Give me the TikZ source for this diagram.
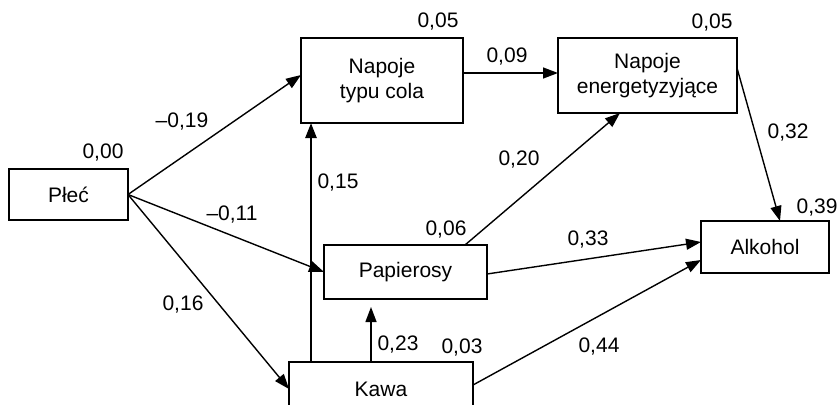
\documentclass[tikz,border=0pt]{standalone}
\usepackage{fontspec}
\setmainfont{Liberation Sans}
\usetikzlibrary{arrows.meta}
\tikzset{
	box/.style={draw, line width=1.8pt, inner sep=0pt, outer sep=0pt, align=center},
	arr/.style={line width=1.4pt, -{Triangle[length=15pt,width=11pt]}},
	heavyarr/.style={arr, line width=2.4pt},
	coef/.style={anchor=base, inner sep=0pt}
}

\begin{document}
\begin{tikzpicture}[x=1pt, y=-1pt, font=\fontsize{21}{25}\selectfont]
			%%%%% BOXES %%%%%
			\clip (0,0) rectangle (840,404);
			
			\node[box, minimum width=119pt, minimum height=51pt] (plec) at (68.5,194.5) {Płeć};
			\node[box, minimum width=162pt, minimum height=85pt] (cola) at (382,80.5) {Napoje\\typu cola};
			\node[box, minimum width=179pt, minimum height=75pt] (energ) at (647.5,75.5) {Napoje\\energetyzyjące};
			\node[box, minimum width=163pt, minimum height=54pt] (papier) at (405.5,272) {Papierosy};
			\node[box, minimum width=128pt, minimum height=52pt] (alk) at (765,247) {Alkohol};
			\node[box, minimum width=184pt, minimum height=54pt] (kawa) at (381,389) {Kawa};
			
			%%%%% PATHS %%%%%
			\draw[arr] (plec.east) -- ([yshift=5.5pt]cola.west);
			\draw[arr] (plec.east) -- (papier.west);
			\draw[arr] (plec.east) -- (kawa.west);
			\draw[heavyarr] ([xshift=-70pt]kawa.north) -- ([xshift=-70pt]kawa.north |- cola.south);
			\draw[arr, shorten >=8pt] ([xshift=-10pt]kawa.north) -- ([xshift=-10pt]kawa.north |- papier.south);
			\draw[arr] ([yshift=7.5pt]cola.east) -- ([yshift=7.5pt]cola.east -| energ.west);
			\draw[arr] ([xshift=59.5pt]papier.north) -- ([xshift=-27.5pt]energ.south);
			\draw[arr] ([yshift=7.5pt]energ.east) -- ([xshift=15pt]alk.north);
			\draw[arr] ([yshift=-2pt]papier.east) -- ([yshift=5pt]alk.west);
			\draw[arr] ([yshift=4pt]kawa.east) -- ([yshift=-13pt]alk.west);
			
			%%%%% COEFFICIENTS %%%%%
			\node[coef] (w-pc) at (182,127) {–0,19};
			\node[coef] (w-pp) at (232,220) {–0,11};
			\node[coef] (w-pk) at (183,310) {0,16};
			\node[coef] (w-kc) at (338,188) {0,15};
			\node[coef] (w-kp) at (398,350) {0,23};
			\node[coef] (w-ce) at (507,63) {0,09};
			\node[coef] (w-pe) at (519,165) {0,20};
			\node[coef] (w-ea) at (788,138) {0,32};
			\node[coef] (w-pa) at (588,245) {0,33};
			\node[coef] (w-ka) at (599,352) {0,44};
			
			\node[coef] (r-plec) at (103,158) {0,00};
			\node[coef] (r-cola) at (438,28) {0,05};
			\node[coef] (r-energ) at (712,29) {0,05};
			\node[coef] (r-papier) at (446,235) {0,06};
			\node[coef] (r-kawa) at (462,353) {0,03};
			\node[coef] (r-alk) at (817,213) {0,39};
\end{tikzpicture}
\end{document}
